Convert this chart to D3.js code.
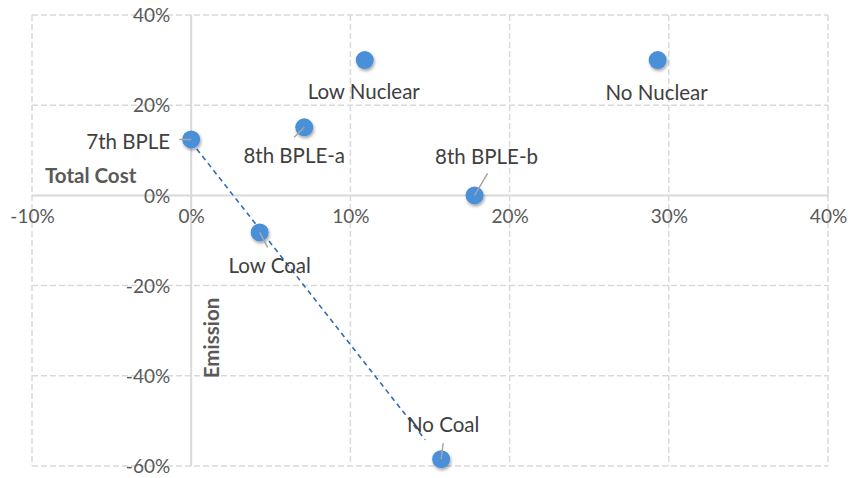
<!DOCTYPE html>
<html>
<head>
<meta charset="utf-8">
<script src="https://cdn.jsdelivr.net/npm/d3@7"></script>
<style>
  html, body { margin: 0; padding: 0; background: #fff; }
  svg { display: block; font-family: Lato, "Open Sans", sans-serif; }
</style>
</head>
<body>
<svg id="chart" width="850" height="478"></svg>
<script>
// Scenario results: change in total cost (x) vs change in emission (y), in %
const scenarios = ["7th BPLE", "8th BPLE-a", "Low Nuclear", "No Nuclear", "8th BPLE-b", "Low Coal", "No Coal"];
const totalCost = [0.0, 7.1, 10.9, 29.3, 17.8, 4.3, 15.7];
const emission  = [12.4, 15.1, 30.0, 30.0, 0.0, -8.2, -58.5];

// Coal-reduction path used for the linear trend line
const trendSeries = ["7th BPLE", "Low Coal", "No Coal"];
const trendRange = [0, 14.7];

const xTicks = [-10, 0, 10, 20, 30, 40];
const yTicks = [-60, -40, -20, 0, 20, 40];

// Label placement relative to each point (px): text offset, anchor, leader end
const labelLayout = {
  "7th BPLE":    { dx: -21, dy: 2,   anchor: "end",    lx: -12, ly: 0 },
  "8th BPLE-a":  { dx: -10, dy: 29,  anchor: "middle", lx: -10, ly: 10 },
  "Low Nuclear": { dx: -1,  dy: 32,  anchor: "middle", lx: 0,   ly: 0 },
  "No Nuclear":  { dx: -1,  dy: 33,  anchor: "middle", lx: 0,   ly: 0 },
  "8th BPLE-b":  { dx: 12,  dy: -39, anchor: "middle", lx: 13,  ly: -22 },
  "Low Coal":    { dx: 10,  dy: 33,  anchor: "middle", lx: 8,   ly: 15 },
  "No Coal":     { dx: 2,   dy: -34, anchor: "middle", lx: 2,   ly: -16 }
};

const svg = d3.select("#chart");
const x = d3.scaleLinear().domain([-10, 40]).range([32, 828]);
const y = d3.scaleLinear().domain([-60, 40]).range([466, 15]);

const pct = d => d + "%";
const gridColor = "#d9d9d9";

// Drop shadow for the markers
const defs = svg.append("defs");
const f = defs.append("filter").attr("id", "shadow")
  .attr("x", "-50%").attr("y", "-50%").attr("width", "200%").attr("height", "200%");
f.append("feDropShadow").attr("dx", 1).attr("dy", 2).attr("stdDeviation", 1.6)
  .attr("flood-color", "#000").attr("flood-opacity", 0.35);

// Dashed grid lines
const grid = svg.append("g");
grid.selectAll("line.vx").data(xTicks.filter(d => d !== 0)).join("line")
  .attr("x1", d => x(d)).attr("x2", d => x(d))
  .attr("y1", y(40)).attr("y2", y(-60))
  .attr("stroke", gridColor).attr("stroke-width", 1.5).attr("stroke-dasharray", "6,3");
grid.selectAll("line.hy").data(yTicks.filter(d => d !== 0)).join("line")
  .attr("x1", x(-10)).attr("x2", x(40))
  .attr("y1", d => y(d)).attr("y2", d => y(d))
  .attr("stroke", gridColor).attr("stroke-width", 1.5).attr("stroke-dasharray", "6,3");

// Solid axes crossing at zero
svg.append("line").attr("x1", x(-10)).attr("x2", x(40)).attr("y1", y(0)).attr("y2", y(0))
  .attr("stroke", gridColor).attr("stroke-width", 2);
svg.append("line").attr("x1", x(0)).attr("x2", x(0)).attr("y1", y(40)).attr("y2", y(-60))
  .attr("stroke", gridColor).attr("stroke-width", 2);
// Right edge of the zero axis
svg.append("line").attr("x1", x(40)).attr("x2", x(40)).attr("y1", y(0) - 6).attr("y2", y(0))
  .attr("stroke", gridColor).attr("stroke-width", 1.5);

// Tick labels
const xAxis = d3.axisBottom(x).tickValues(xTicks).tickFormat(pct).tickSize(0).tickPadding(0);
const gx = svg.append("g").attr("transform", `translate(0,${y(0) + 22})`).call(xAxis);
gx.select(".domain").remove();
gx.selectAll("text").attr("fill", "#595959").style("font-size", "19px")
  .style("font-family", "Lato, sans-serif").attr("dy", "0.32em").attr("y", 0);

const yAxis = d3.axisLeft(y).tickValues(yTicks).tickFormat(pct).tickSize(0).tickPadding(0);
const gy = svg.append("g").attr("transform", `translate(${x(0) - 21},0)`).call(yAxis);
gy.select(".domain").remove();
gy.selectAll("text").attr("fill", "#595959").style("font-size", "19px")
  .style("font-family", "Lato, sans-serif").attr("dy", "0.35em").attr("x", 0);

// Axis titles
svg.append("text").attr("x", 45).attr("y", y(0) - 12)
  .attr("fill", "#595959").style("font-size", "20.5px").style("font-weight", "bold")
  .text("Total Cost");
svg.append("text")
  .attr("transform", `translate(${x(0) + 28},${338}) rotate(-90)`)
  .attr("text-anchor", "middle").attr("fill", "#595959")
  .style("font-size", "20.5px").style("font-weight", "bold")
  .text("Emission");

// Points table
const points = scenarios.map((s, i) => ({ name: s, cost: totalCost[i], emission: emission[i] }));

// Linear trend through the coal path
const tp = points.filter(p => trendSeries.includes(p.name));
const mx = d3.mean(tp, p => p.cost), my = d3.mean(tp, p => p.emission);
const slope = d3.sum(tp, p => (p.cost - mx) * (p.emission - my)) / d3.sum(tp, p => (p.cost - mx) ** 2);
const intercept = my - slope * mx;
svg.append("line")
  .attr("x1", x(trendRange[0])).attr("y1", y(intercept + slope * trendRange[0]))
  .attr("x2", x(trendRange[1])).attr("y2", y(intercept + slope * trendRange[1]))
  .attr("stroke", "#2f6db5").attr("stroke-width", 1.6).attr("stroke-dasharray", "5,4");

// Markers
svg.append("g").selectAll("circle").data(points).join("circle")
  .attr("cx", d => x(d.cost)).attr("cy", d => y(d.emission)).attr("r", 9)
  .attr("fill", "#4a90d9").attr("filter", "url(#shadow)");

// Leader lines
svg.append("g").selectAll("line").data(points.filter(p => {
    const l = labelLayout[p.name]; return l.lx !== 0 || l.ly !== 0; }))
  .join("line")
  .attr("x1", d => x(d.cost)).attr("y1", d => y(d.emission))
  .attr("x2", d => x(d.cost) + labelLayout[d.name].lx)
  .attr("y2", d => y(d.emission) + labelLayout[d.name].ly)
  .attr("stroke", "#a6a6a6").attr("stroke-width", 1.5);

// Data labels
svg.append("g").selectAll("text").data(points).join("text")
  .attr("x", d => x(d.cost) + labelLayout[d.name].dx)
  .attr("y", d => y(d.emission) + labelLayout[d.name].dy)
  .attr("text-anchor", d => labelLayout[d.name].anchor)
  .attr("dy", "0.35em")
  .attr("fill", "#404040").style("font-size", "20.5px")
  .text(d => d.name);
</script>
</body>
</html>
